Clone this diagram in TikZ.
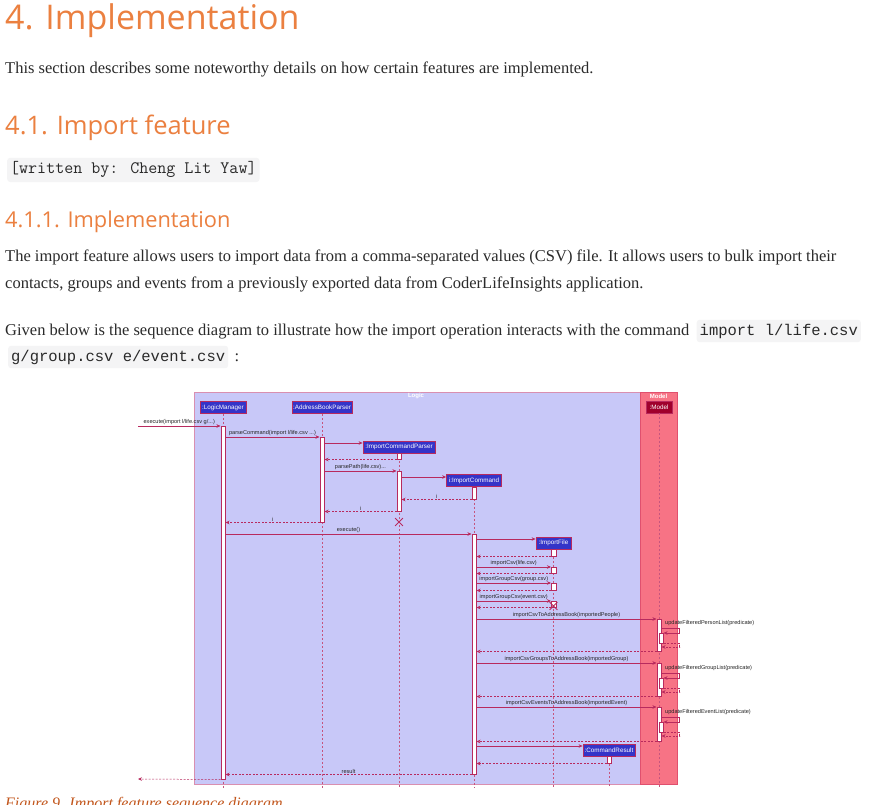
\documentclass[tikz,border=0pt]{standalone}
\usepackage{fontspec}
\setmainfont{Liberation Serif}
\setsansfont{Liberation Sans}
\newfontfamily\codefont{Liberation Mono}
\newfontfamily\headfont{Open Sans}
\usepackage{tikz}
\usetikzlibrary{positioning, arrows.meta, shapes.misc, calc}
\definecolor{ink}{HTML}{2A2A2A}
\definecolor{heading}{HTML}{EB8040}
\definecolor{capink}{HTML}{C2561C}
\definecolor{codebg}{HTML}{F4F4F5}
\definecolor{logicbg}{HTML}{C8C8F8}
\definecolor{logicedge}{HTML}{D98FB0}
\definecolor{modelbg}{HTML}{F77385}
\definecolor{modeledge}{HTML}{E0506E}
\definecolor{seq}{HTML}{B82A5E}
\definecolor{partfill}{HTML}{3434C8}
\definecolor{modelpart}{HTML}{A0002C}

\begin{document}
\begin{tikzpicture}[
    x=1pt, y=-1pt,
    h1/.style  ={anchor=base west, inner sep=0, text=heading,
                 font=\headfont\fontsize{34}{40}\selectfont},
    h2/.style  ={h1, font=\headfont\fontsize{25.5}{30}\selectfont},
    h3/.style  ={h1, font=\headfont\fontsize{21.8}{26}\selectfont},
    para/.style={anchor=base west, inner sep=0, text=ink,
                 font=\fontsize{16.5}{20}\selectfont},
    code/.style={anchor=base west, fill=codebg, rounded corners=3pt, text=ink,
                 inner xsep=3pt, inner ysep=4pt,
                 font=\codefont\fontsize{15.5}{18}\selectfont},
    part/.style={draw=seq, fill=partfill, text=white, line width=0.8pt,
                 minimum height=12pt, inner sep=1pt,
                 font=\sffamily\fontsize{6.3}{7}\selectfont},
    act/.style ={draw=seq, fill=white, line width=0.5pt, anchor=north,
                 minimum width=4.5pt, inner sep=0},
    life/.style={draw=seq!80, line width=0.5pt, dash pattern=on 2pt off 2pt},
    msg/.style ={draw=seq, line width=0.5pt, -{Stealth[length=4pt, width=3.5pt]}},
    ret/.style ={msg, dash pattern=on 2pt off 1.5pt},
    lbl/.style ={above, inner sep=1pt, text=black!85,
                 font=\sffamily\fontsize{5.6}{6}\selectfont},
    kill/.style={draw=seq, cross out, line width=0.8pt, minimum size=7pt, inner sep=0},
    boxtitle/.style={text=white, inner sep=0, font=\sffamily\bfseries\fontsize{6}{7}\selectfont}]

  \fill[white] (0,0) rectangle (891,805);
  \useasboundingbox (0,0) rectangle (891,805);

  % page text
  \node[h1]   (title)  at (5,30)  {4. Implementation};
  \node[para] (intro)  at (5,74)  {This section describes some noteworthy details on how certain features are implemented.};
  \node[h2]   (sec)    at (5,135) {4.1. Import feature};
  \node[code, font=\ttfamily\fontsize{17.5}{20}\selectfont] (author) at (7,174) {[written by: Cheng Lit Yaw]};
  \node[h3]   (subsec) at (5,227) {4.1.1. Implementation};
  \node[para] (lineA)  at (5,261) {The import feature allows users to import data from a comma-separated values (CSV) file. It allows users to bulk import their};
  \node[para] (lineB)  at (5,288) {contacts, groups and events from a previously exported data from CoderLifeInsights application.};
  \node[para] (lineC)  at (5,335) {Given below is the sequence diagram to illustrate how the import operation interacts with the command};
  \node[code] (cmdA) at ([xshift=7pt]lineC.base east) {import l/life.csv};
  \node[code] (cmdB) at (8,361) {g/group.csv e/event.csv};
  \node[para] (colon) at ([xshift=6pt]cmdB.base east) {:};

  % frames
  \draw[logicedge, fill=logicbg, line width=1pt] (194,392) rectangle (640,784);
  \draw[modeledge, fill=modelbg, line width=1pt] (640,392) rectangle (677,784);
  \node[boxtitle] (logicT) at (416,396) {Logic};
  \node[boxtitle] (modelT) at (658.5,396) {Model};

  % participants
  \node[part, minimum width=46pt] (lm)    at (223,407.5)   {:LogicManager};
  \node[part, minimum width=60pt] (abp)   at (322,407.5)   {:AddressBookParser};
  \node[part, minimum width=72pt] (icp)   at (399,447)     {:ImportCommandParser};
  \node[part, minimum width=55pt] (ic)    at (474,480.5)   {i:ImportCommand};
  \node[part, minimum width=35pt] (ifile) at (553.5,543)   {:ImportFile};
  \node[part, minimum width=52pt] (cr)    at (609,750)     {:CommandResult};
  \node[part, minimum width=26pt, fill=modelpart] (mdl) at (659,407) {:Model};

  % lifelines
  \coordinate (bottom) at (0,788);
  \foreach \p in {lm, abp, icp, ic, ifile, cr, mdl}
    \draw[life] (\p.south) -- (\p.south |- bottom);

  % activations
  \node[act, minimum height=353pt] (lm-a)  at (223,426) {};
  \node[act, minimum height=85pt]  (abp-a) at (322,437) {};
  \node[act, minimum height=6pt]   (icp-a1) at (399,453) {};
  \node[act, minimum height=40pt]  (icp-a2) at (399,471) {};
  \node[act, minimum height=12pt]  (ic-a1) at (474,487) {};
  \node[act, minimum height=240pt] (ic-a2) at (474,534) {};
  \node[act, minimum height=7pt]   (if-a1) at (553.5,549) {};
  \node[act, minimum height=6pt]   (if-a2) at (553.5,567) {};
  \node[act, minimum height=7pt]   (if-a3) at (553.5,583) {};
  \node[act, minimum height=6pt]   (if-a4) at (553.5,601) {};
  \node[act, minimum height=32pt]  (md-a1) at (659,619) {};
  \node[act, minimum height=10pt]  (md-n1) at (661,633) {};
  \node[act, minimum height=33pt]  (md-a2) at (659,663) {};
  \node[act, minimum height=10pt]  (md-n2) at (661,678) {};
  \node[act, minimum height=34pt]  (md-a3) at (659,707) {};
  \node[act, minimum height=10pt]  (md-n3) at (661,722) {};
  \node[act, minimum height=7pt]   (cr-a)  at (609,756) {};

  % messages
  \coordinate (in)  at (138,426);
  \coordinate (out) at (138,779);
  \draw[msg] (in) -- (lm-a.north west) node[lbl, midway] {execute(import l/life.csv g/...)};
  \draw[msg] (lm-a.east |- abp-a.north) -- (abp-a.north west) node[lbl, midway] {parseCommand(import l/life.csv ...)};
  \draw[msg] (abp-a.east |- 0,443) -- (icp.west |- 0,443);
  \draw[ret] (icp-a1.south west) -- (abp-a.east |- icp-a1.south);
  \draw[msg] (abp-a.east |- icp-a2.north) -- (icp-a2.north west) node[lbl, midway] {parsePath(life.csv)...};
  \draw[msg] (icp-a2.east |- 0,477) -- (ic.west |- 0,477);
  \draw[ret] (ic-a1.south west) -- (icp-a2.east |- ic-a1.south) node[lbl, midway] {i};
  \draw[ret] (icp-a2.south west) -- (abp-a.east |- icp-a2.south) node[lbl, midway] {i};
  \draw[ret] (abp-a.south west) -- (lm-a.east |- abp-a.south) node[lbl, midway] {i};
  \node[kill] (icp-x) at (399,522) {};
  \draw[msg] (lm-a.east |- ic-a2.north) -- (ic-a2.north west) node[lbl, midway] {execute()};

  \draw[msg] (ic-a2.east |- 0,539) -- (ifile.west |- 0,539);
  \draw[ret] (if-a1.south west) -- (ic-a2.east |- if-a1.south);
  \draw[msg] (ic-a2.east |- if-a2.north) -- (if-a2.north west) node[lbl, midway] {importCsv(life.csv)};
  \draw[ret] (if-a2.south west) -- (ic-a2.east |- if-a2.south);
  \draw[msg] (ic-a2.east |- if-a3.north) -- (if-a3.north west) node[lbl, midway] {importGroupCsv(group.csv)};
  \draw[ret] (if-a3.south west) -- (ic-a2.east |- if-a3.south);
  \draw[msg] (ic-a2.east |- if-a4.north) -- (if-a4.north west) node[lbl, midway] {importGroupCsv(event.csv)};
  \draw[ret] (if-a4.south west) -- (ic-a2.east |- if-a4.south);
  \node[kill] (if-x) at (553.5,606) {};

  \draw[msg] (ic-a2.east |- md-a1.north) -- (md-a1.north west) node[lbl, midway] {importCsvToAddressBook(importedPeople)};
  \draw[msg] (md-a1.east |- 0,628) -- ++(18,0) |- (md-n1.north east);
  \node[lbl, anchor=south west] (upd1) at (664,627) {updateFilteredPersonList(predicate)};
  \draw[ret] (md-n1.south east) -- ++(16,0) |- (md-a1.east |- 0,647);
  \draw[ret] (md-a1.south west) -- (ic-a2.east |- md-a1.south);

  \draw[msg] (ic-a2.east |- md-a2.north) -- (md-a2.north west) node[lbl, midway] {importCsvGroupsToAddressBook(importedGroup)};
  \draw[msg] (md-a2.east |- 0,673) -- ++(18,0) |- (md-n2.north east);
  \node[lbl, anchor=south west] (upd2) at (664,672) {updateFilteredGroupList(predicate)};
  \draw[ret] (md-n2.south east) -- ++(16,0) |- (md-a2.east |- 0,692);
  \draw[ret] (md-a2.south west) -- (ic-a2.east |- md-a2.south);

  \draw[msg] (ic-a2.east |- md-a3.north) -- (md-a3.north west) node[lbl, midway] {importCsvEventsToAddressBook(importedEvent)};
  \draw[msg] (md-a3.east |- 0,717) -- ++(18,0) |- (md-n3.north east);
  \node[lbl, anchor=south west] (upd3) at (664,716) {updateFilteredEventList(predicate)};
  \draw[ret] (md-n3.south east) -- ++(16,0) |- (md-a3.east |- 0,736);
  \draw[ret] (md-a3.south west) -- (ic-a2.east |- md-a3.south);

  \draw[msg] (ic-a2.east |- 0,746) -- (cr.west |- 0,746);
  \draw[ret] (cr-a.south west) -- (ic-a2.east |- cr-a.south);
  \draw[ret] (ic-a2.south west) -- (lm-a.east |- ic-a2.south) node[lbl, midway] {result};
  \draw[ret] (lm-a.south west) -- (out);

  % caption
  \node[para, text=capink, font=\itshape\fontsize{16}{19}\selectfont] (cap) at (5,808) {Figure 9. Import feature sequence diagram};
\end{tikzpicture}
\end{document}
